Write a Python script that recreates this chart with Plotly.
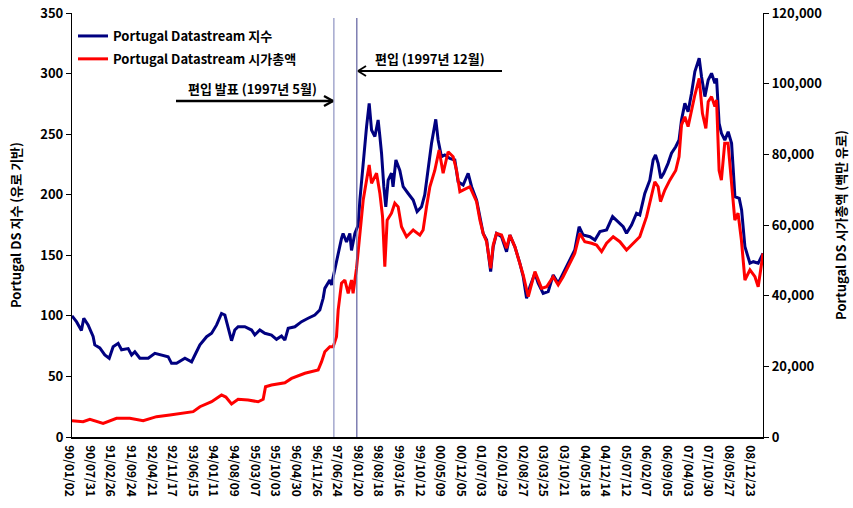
import datetime as dt
import plotly.graph_objects as go

# ---------------- data ----------------
index_dates = [
    "1990-01-02", "1990-02-18", "1990-04-08", "1990-05-02", "1990-06-15", "1990-08-05", "1990-08-22",
    "1990-10-12", "1990-12-02", "1991-01-16", "1991-02-25", "1991-04-17", "1991-05-22", "1991-07-28",
    "1991-09-01", "1991-10-04", "1991-11-24", "1992-02-17", "1992-04-25", "1992-07-02", "1992-09-07",
    "1992-10-12", "1992-12-02", "1993-02-25", "1993-05-04", "1993-06-07", "1993-07-28", "1993-10-04",
    "1993-11-24", "1994-01-14", "1994-03-05", "1994-04-08", "1994-05-11", "1994-06-15", "1994-07-18",
    "1994-08-21", "1994-10-28", "1995-01-05", "1995-02-07", "1995-03-30", "1995-05-20", "1995-07-27",
    "1995-09-16", "1995-11-06", "1995-12-10", "1996-01-13", "1996-03-21", "1996-05-28", "1996-08-03",
    "1996-10-10", "1996-11-30", "1997-01-03", "1997-01-20", "1997-03-12", "1997-03-29", "1997-05-02",
    "1997-06-05", "1997-07-09", "1997-07-25", "1997-08-29", "1997-10-02", "1997-10-19", "1997-11-22",
    "1997-12-26", "1998-01-12", "1998-02-15", "1998-03-21", "1998-04-17", "1998-05-11", "1998-06-14",
    "1998-07-17", "1998-08-04", "1998-08-21", "1998-09-13", "1998-10-03", "1998-10-27", "1998-11-30",
    "1998-12-16", "1999-01-14", "1999-02-23", "1999-03-29", "1999-05-19", "1999-07-09", "1999-08-18",
    "1999-10-02", "1999-11-04", "1999-12-08", "2000-01-12", "2000-02-24", "2000-03-19", "2000-04-22",
    "2000-05-26", "2000-07-16", "2000-09-05", "2000-10-09", "2000-11-29", "2001-01-19", "2001-02-23",
    "2001-04-15", "2001-05-19", "2001-06-21", "2001-07-26", "2001-09-05", "2001-10-01", "2001-11-04",
    "2001-12-25", "2002-02-14", "2002-03-20", "2002-05-10", "2002-06-30", "2002-08-03", "2002-09-06",
    "2002-10-10", "2002-11-30", "2003-01-02", "2003-02-22", "2003-04-14", "2003-06-04", "2003-07-25",
    "2003-09-13", "2003-11-20", "2004-01-10", "2004-02-23", "2004-04-04", "2004-06-12", "2004-08-02",
    "2004-09-22", "2004-11-29", "2005-01-29", "2005-03-27", "2005-05-17", "2005-06-20", "2005-08-10",
    "2005-09-30", "2005-11-02", "2005-12-23", "2006-02-12", "2006-03-18", "2006-04-11", "2006-05-08",
    "2006-06-04", "2006-07-04", "2006-08-17", "2006-09-21", "2006-11-03", "2006-12-07", "2007-01-01",
    "2007-02-04", "2007-03-09", "2007-04-13", "2007-05-17", "2007-06-30", "2007-07-24", "2007-08-27",
    "2007-09-30", "2007-11-03", "2007-12-07", "2007-12-24", "2008-01-19", "2008-02-12", "2008-03-17",
    "2008-04-20", "2008-05-25", "2008-06-28", "2008-08-11", "2008-09-04", "2008-10-08", "2008-11-28",
    "2009-01-01", "2009-02-20", "2009-04-10",
]
index_values = [
    100, 95, 88, 98, 92.5, 83, 76,
    73.5, 67.7, 65, 74.5, 77.3, 72, 73,
    67.7, 70.4, 65, 65, 69, 67.7, 66.3,
    60.8, 60.8, 65, 62, 67.7, 76, 82.8,
    85.6, 92.5, 102, 100.7, 91, 79.5, 88.3,
    91, 91, 88.3, 84.2, 88.3, 85.6, 84.2,
    80.6, 83.4, 80, 89.7, 91, 95.2, 98,
    100.7, 104.8, 114.5, 122.7, 129.6, 125.5, 139.3,
    151.6, 164, 168, 161, 168, 154, 168,
    175, 195.6, 228.7, 256, 275.4, 253.4, 248,
    261.7, 248, 234, 206.6, 190, 212, 217.7,
    206.6, 228.7, 220, 206.6, 201, 195.6, 186,
    190, 200, 220, 242.4, 262.2, 245.2, 231.4,
    232.8, 230, 228.7, 210.7, 208, 217.7, 206.6,
    195.6, 181.9, 168, 162.6, 136.5, 157, 168,
    165.3, 153, 166.7, 157, 143.4, 132.3, 114.5,
    124, 135.1, 126.9, 118.6, 120, 133.7, 126.9,
    135.1, 146.1, 154.4, 173.6, 166.7, 165.3, 162.6,
    169.5, 170.9, 181.9, 177.7, 173.6, 168.2, 175,
    184.7, 183.3, 201, 212, 228.7, 232.8, 225.9,
    213.5, 217.7, 225.9, 234.2, 239.6, 245.2, 261.7,
    275.4, 268.5, 283.7, 301.6, 312.6, 297.4, 281,
    294.7, 300.2, 292, 296, 259, 250.7, 245,
    252, 242.4, 198.4, 197, 187.4, 157, 143.4,
    144.7, 143.4, 151.6,
]

mcap_dates = [
    "1990-01-02", "1990-04-25", "1990-07-03", "1990-11-15", "1991-04-01", "1991-08-14", "1991-12-28",
    "1992-05-12", "1992-09-25", "1993-02-08", "1993-05-20", "1993-07-28", "1993-10-04", "1993-11-24",
    "1994-03-05", "1994-04-18", "1994-06-15", "1994-08-21", "1994-12-01", "1995-03-13", "1995-05-03",
    "1995-05-27", "1995-07-27", "1995-12-10", "1996-02-16", "1996-07-01", "1996-11-13", "1996-12-18",
    "1997-01-20", "1997-03-12", "1997-04-15", "1997-05-19", "1997-06-05", "1997-06-22", "1997-07-09",
    "1997-08-12", "1997-09-15", "1997-10-19", "1997-11-04", "1997-12-09", "1998-01-12", "1998-02-15",
    "1998-03-21", "1998-04-17", "1998-05-11", "1998-07-01", "1998-08-04", "1998-08-31", "1998-09-23",
    "1998-10-17", "1998-11-30", "1999-01-03", "1999-02-06", "1999-03-12", "1999-05-02", "1999-07-09",
    "1999-09-15", "1999-10-18", "1999-11-22", "1999-12-26", "2000-02-14", "2000-03-29", "2000-05-09",
    "2000-06-29", "2000-08-19", "2000-09-23", "2000-10-27", "2001-02-05", "2001-04-15", "2001-05-19",
    "2001-06-21", "2001-07-26", "2001-09-05", "2001-10-01", "2001-11-04", "2001-12-25", "2002-02-14",
    "2002-03-20", "2002-05-10", "2002-06-30", "2002-08-03", "2002-09-23", "2002-11-30", "2003-02-06",
    "2003-03-29", "2003-06-04", "2003-07-25", "2003-09-13", "2003-11-20", "2004-01-10", "2004-03-01",
    "2004-04-21", "2004-06-29", "2004-08-19", "2004-10-09", "2004-11-29", "2005-02-04", "2005-04-13",
    "2005-06-20", "2005-08-27", "2005-11-02", "2006-01-10", "2006-03-01", "2006-04-04", "2006-05-08",
    "2006-06-01", "2006-07-15", "2006-09-04", "2006-11-03", "2006-12-07", "2007-01-01", "2007-02-04",
    "2007-03-09", "2007-04-13", "2007-05-17", "2007-06-30", "2007-08-02", "2007-09-06", "2007-09-30",
    "2007-11-03", "2007-12-07", "2007-12-24", "2008-01-19", "2008-02-11", "2008-03-16", "2008-04-19",
    "2008-05-23", "2008-06-27", "2008-07-30", "2008-09-02", "2008-10-08", "2008-11-28", "2009-01-18",
    "2009-02-20", "2009-03-27", "2009-04-10",
]
mcap_values = [  # million EUR
    4630, 4320, 5010, 3870, 5280, 5280, 4630,
    5760, 6240, 6890, 7170, 8570, 9260, 9980,
    11900, 11310, 9330, 10660, 10460, 9980, 10660,
    14230, 14710, 15360, 16590, 18030, 18960, 21330,
    24140, 25540, 25540, 28390, 35930, 40180, 43510,
    44430, 40660, 44430, 40660, 47760, 57600, 67060,
    72690, 76970, 71790, 74640, 68910, 62370, 48210,
    61370, 63330, 66170, 65140, 59520, 56670, 58590,
    57150, 58590, 65140, 70830, 75430, 81220, 74640,
    80740, 79340, 75430, 69430, 70830, 66620, 61370,
    57600, 55270, 47760, 54340, 57600, 57150, 53420,
    57150, 53830, 49170, 45840, 39700, 46800, 42070,
    42510, 45360, 43030, 45360, 49170, 51980, 57600,
    55270, 54820, 54340, 52460, 54860, 56670, 55270,
    52940, 54860, 56670, 62370, 68020, 72240, 70830,
    66620, 69910, 72690, 75430, 79340, 88320, 90650,
    87840, 92570, 96790, 101490, 91610, 87360, 94900,
    96340, 93500, 95380, 75430, 72690, 83110, 83110,
    71790, 61370, 63330, 55750, 44430, 47280, 45360,
    42510, 49170, 51980,
]

tick_dates = [
    "1990-01-02", "1990-07-31", "1991-02-26", "1991-09-24", "1992-04-21", "1992-11-17",
    "1993-06-15", "1994-01-11", "1994-08-09", "1995-03-07", "1995-10-03", "1996-04-30",
    "1996-11-26", "1997-06-24", "1998-01-20", "1998-08-18", "1999-03-16", "1999-10-12",
    "2000-05-09", "2000-12-05", "2001-07-03", "2002-01-29", "2002-08-27", "2003-03-25",
    "2003-10-21", "2004-05-18", "2004-12-14", "2005-07-12", "2006-02-07", "2006-09-05",
    "2007-04-03", "2007-10-30", "2008-05-27", "2008-12-23",
]
tick_labels = [dt.date.fromisoformat(d).strftime("%y/%m/%d") for d in tick_dates]

announce_date = "1997-04-22"   # 편입 발표 line
inclusion_date = "1997-12-12"  # 편입 line

index_name = "Portugal Datastream 지수"
mcap_name = "Portugal Datastream 시가총액"
left_title = "Portugal DS 지수 (유로 기반)"
right_title = "Portugal DS 시가총액 (백만 유로)"

FONT = "Noto Sans CJK KR, Noto Sans, sans-serif"

# ---------------- figure ----------------
fig = go.Figure()
fig.add_trace(go.Scatter(x=index_dates, y=index_values, name=index_name, mode="lines", legendgroup="a",
                         line=dict(color="#000080", width=3)))
fig.add_trace(go.Scatter(x=mcap_dates, y=mcap_values, name=mcap_name, mode="lines", yaxis="y2",
                         legendgroup="b", line=dict(color="#FF0000", width=3)))

W, H = 853, 508
SL, SR, ST, SB = 72, 763, 13, 437          # plot box in window pixels
L, T = SL, ST
R, B = W - SR, H - SB
pw, ph = SR - SL, SB - ST


def px(xs):
    return (xs - SL) / pw


def py(ys):
    return (SB - ys) / ph


shapes = [
    dict(type="line", xref="x", yref="paper", x0=announce_date, x1=announce_date, y0=0, y1=py(18),
         line=dict(color="#A4A8CE", width=1.5)),
    dict(type="line", xref="x", yref="paper", x0=inclusion_date, x1=inclusion_date, y0=0, y1=py(18),
         line=dict(color="#5E5E9E", width=1.2)),
]
for (x0, y0, x1, y1, w) in [(176, 101, 333, 101, 2.6), (333, 101, 324, 96, 2.4), (333, 101, 324, 106, 2.4),
                             (502, 71, 358, 71, 1.8), (358, 71, 366, 66, 1.8), (358, 71, 366, 76, 1.8)]:
    shapes.append(dict(type="line", xref="paper", yref="paper", x0=px(x0), y0=py(y0), x1=px(x1), y1=py(y1),
                       line=dict(color="black", width=w)))

annotations = [
    dict(text="편입 발표 (1997년 5월)", xref="paper", yref="paper", x=px(253), y=py(88), showarrow=False,
         xanchor="center", yanchor="middle",
         font=dict(size=13, color="black", family=FONT, weight="bold")),
    dict(text="편입 (1997년 12월)", xref="paper", yref="paper", x=px(430), y=py(58), showarrow=False,
         xanchor="center", yanchor="middle",
         font=dict(size=13, color="black", family=FONT, weight="bold")),
]

fig.update_layout(
    width=W, height=H,
    margin=dict(l=L, r=R, t=T, b=B, autoexpand=False),
    paper_bgcolor="white", plot_bgcolor="white",
    font=dict(family=FONT, size=13, color="black", weight="bold"),
    showlegend=True,
    legend=dict(x=px(73), y=py(21), xanchor="left", yanchor="top", bgcolor="rgba(0,0,0,0)",
                itemwidth=30, font=dict(size=13, family=FONT, weight="bold"), tracegroupgap=3),
    xaxis=dict(type="date", range=["1990-01-02", "2009-04-10"], tickvals=tick_dates, ticktext=tick_labels,
               tickangle=90, showgrid=False, zeroline=False, showline=True, linecolor="black", linewidth=1.5,
               ticks="", tickfont=dict(size=12, family=FONT, weight="bold"), ticklabelshift=-3,
               ticklabelstandoff=4, automargin=False, ticklabeloverflow="allow"),
    yaxis=dict(range=[0, 350], dtick=50, showgrid=False, zeroline=False, showline=True, linecolor="black",
               linewidth=1.2, ticks="outside", ticklen=5, tickcolor="black", automargin=False,
               ticklabeloverflow="allow",
               tickfont=dict(size=13, family=FONT, weight="bold"),
               title=dict(text=left_title, font=dict(size=13, family=FONT, weight="bold"))),
    yaxis2=dict(range=[0, 120000], dtick=20000, tickformat=",", overlaying="y", side="right", showgrid=False,
                zeroline=False, showline=True, linecolor="black", linewidth=1.2, ticks="outside", ticklen=5,
                tickcolor="black", tickfont=dict(size=13, family=FONT, weight="bold"), automargin=False,
                ticklabeloverflow="allow",
                title=dict(text=right_title, font=dict(size=13, family=FONT, weight="bold"))),
    shapes=shapes,
    annotations=annotations,
)

# remove the browser's default 8px page margin so the 853x508 figure fills the window
fig.write_html("out.html", config={"displayModeBar": False},
               post_script="document.body.style.margin='0px';")
